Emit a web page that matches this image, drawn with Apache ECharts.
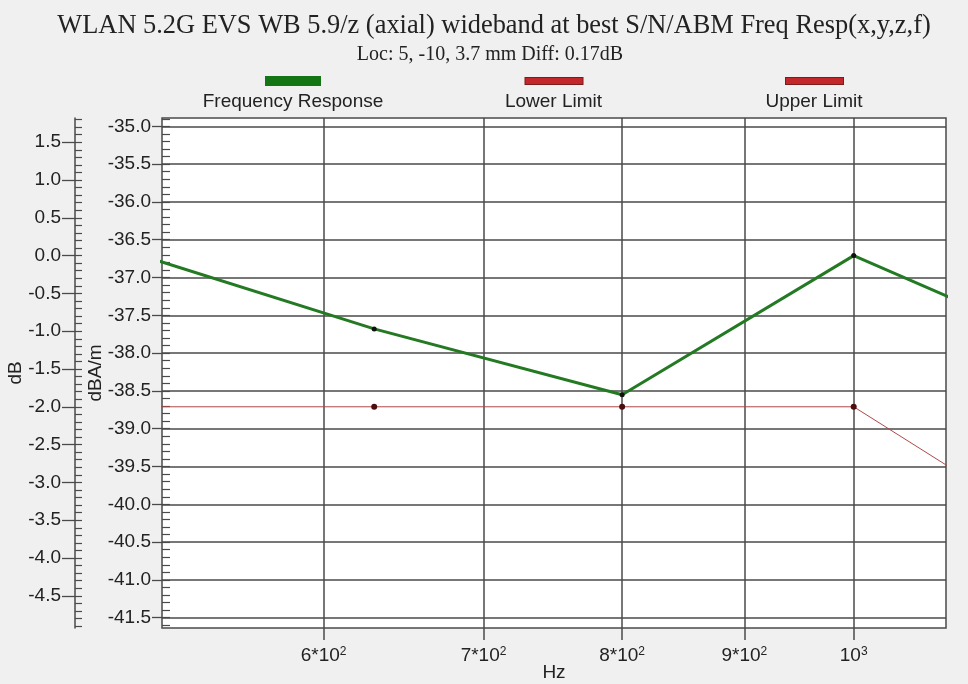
<!DOCTYPE html>
<html><head><meta charset="utf-8">
<script src="https://cdn.jsdelivr.net/npm/echarts@6/dist/echarts.min.js"></script>
<style>html,body{margin:0;padding:0;background:#f0f0f0}#c{width:968px;height:684px}</style>
</head><body><div id="c"></div>
<script>
// ---- data ----
const freqs = [500, 630, 800, 1000, 1250];
const freqResp = [-36.68, -37.68, -38.55, -36.71, -38.04];
const lowerLimit = [-38.71, -38.71, -38.71, -38.71, -40.64];
const upperLimit = [];
const xTicks = [600, 700, 800, 900, 1000];
const xTickLabels = ['6*10^2', '7*10^2', '8*10^2', '9*10^2', '10^3'];
const yTicks = [-41.5, -41.0, -40.5, -40.0, -39.5, -39.0, -38.5, -38.0, -37.5, -37.0, -36.5, -36.0, -35.5, -35.0];
const dbTicks = [-4.5, -4.0, -3.5, -3.0, -2.5, -2.0, -1.5, -1.0, -0.5, 0.0, 0.5, 1.0, 1.5];
const xRange = [513.5, 1093];
const yRange = [-41.636, -34.89];
const refLevel = freqResp[3]; // dB axis is relative to 1 kHz level
const titleText = 'WLAN 5.2G EVS WB 5.9/z (axial) wideband at best S/N/ABM Freq Resp(x,y,z,f)';
const subText = 'Loc: 5, -10, 3.7 mm Diff: 0.17dB';

function minorTicks(lo, hi) {
  const out = [];
  for (let k = Math.ceil(lo * 10 - 1e-9); k <= Math.floor(hi * 10 + 1e-9); k++) out.push(k / 10);
  return out;
}
const dbRange = [yRange[0] - refLevel, yRange[1] - refLevel];
const gridCol = '#4a4a4a';
const txtCol = '#222';
const sans = 'Liberation Sans';
const fs = 19;

const chart = echarts.init(document.getElementById('c'), null, {renderer: 'canvas'});
chart.setOption({
  animation: false,
  backgroundColor: '#f0f0f0',
  title: [
    {text: titleText, left: 489, textAlign: 'center', top: 8,
     textStyle: {fontFamily: 'Liberation Serif', fontSize: 26.4, fontWeight: 'normal', color: txtCol}},
    {text: subText, left: 485, textAlign: 'center', top: 40,
     textStyle: {fontFamily: 'Liberation Serif', fontSize: 20, fontWeight: 'normal', color: txtCol}}
  ],
  legend: {
    left: 183, top: 70, itemWidth: 0, itemHeight: 0, itemGap: 55.5, selectedMode: false,
    icon: 'rect',
    data: ['Frequency Response', 'Lower Limit', 'Upper Limit'],
    formatter: function (name) {
      const k = name === 'Frequency Response' ? 'g' : 'r';
      return '{s| }{' + k + '| }\n{t|' + name + '}';
    },
    textStyle: {
      rich: {
        s: {width: 72, height: 10, lineHeight: 20},
        g: {width: 56, height: 10, lineHeight: 20, backgroundColor: '#137513'},
        r: {width: 57, height: 6, lineHeight: 20, backgroundColor: '#c4272b', borderColor: '#7a1c1c', borderWidth: 1},
        t: {width: 200, align: 'center', fontSize: fs, lineHeight: 22, fontFamily: sans, color: txtCol}
      }
    }
  },
  grid: {left: 162, top: 118, width: 784, height: 510, show: true, backgroundColor: '#fff',
         borderColor: gridCol, borderWidth: 1.5, containLabel: false, outerBoundsMode: 'none'},
  xAxis: [{
    type: 'log', logBase: 10, min: xRange[0], max: xRange[1],
    axisLine: {show: false, onZero: false},
    axisTick: {show: true, customValues: xTicks, length: 12, lineStyle: {color: gridCol, width: 1.5}},
    axisLabel: {
      customValues: xTicks, margin: 18, color: txtCol, fontFamily: sans, fontSize: fs,
      formatter: function (v) {
        const i = xTicks.findIndex(t => Math.abs(t - v) < 1e-6 * t);
        const s = i >= 0 ? xTickLabels[i] : String(v);
        const p = s.split('^');
        return '{b|' + p[0] + '}{e|' + (p[1] || '') + '}';
      },
      rich: {
        b: {fontSize: fs, fontFamily: sans, color: txtCol},
        e: {fontSize: 12, fontFamily: sans, color: txtCol, verticalAlign: 'top', padding: [0, 0, 8, 0]}
      }
    },
    splitLine: {show: true, lineStyle: {color: gridCol, width: 1.5}},
    name: 'Hz', nameLocation: 'middle', nameGap: 35, nameMoveOverlap: false,
    nameTextStyle: {fontFamily: sans, fontSize: fs, color: txtCol}
  }],
  yAxis: [
    {
      type: 'value', min: yRange[0], max: yRange[1], position: 'left',
      axisLine: {show: false, onZero: false},
      axisTick: {show: true, customValues: yTicks, length: 10, lineStyle: {color: gridCol, width: 1.3}},
      axisLabel: {customValues: yTicks, margin: 11, formatter: v => v.toFixed(1),
                  fontFamily: sans, fontSize: fs, color: txtCol},
      splitLine: {show: true, lineStyle: {color: gridCol, width: 1.5}},
      name: 'dBA/m', nameLocation: 'middle', nameGap: 57, nameRotate: 90, nameMoveOverlap: false,
      nameTextStyle: {fontFamily: sans, fontSize: fs, color: txtCol}
    },
    {
      type: 'value', min: yRange[0], max: yRange[1], position: 'left',
      axisLine: {show: false, onZero: false},
      axisTick: {show: true, inside: true, customValues: minorTicks(yRange[0], yRange[1]), length: 8,
                 lineStyle: {color: gridCol, width: 1.2}},
      axisLabel: {show: false}, splitLine: {show: false}
    },
    {
      type: 'value', min: dbRange[0], max: dbRange[1], position: 'left', offset: 87,
      axisLine: {show: true, onZero: false, lineStyle: {color: gridCol, width: 1.5}},
      axisTick: {show: true, customValues: dbTicks, length: 13, lineStyle: {color: gridCol, width: 1.3}},
      axisLabel: {customValues: dbTicks, margin: 14, formatter: v => v.toFixed(1),
                  fontFamily: sans, fontSize: fs, color: txtCol},
      splitLine: {show: false},
      name: 'dB', nameLocation: 'middle', nameGap: 50, nameRotate: 90, nameMoveOverlap: false,
      nameTextStyle: {fontFamily: sans, fontSize: fs, color: txtCol}
    },
    {
      type: 'value', min: dbRange[0], max: dbRange[1], position: 'left', offset: 87,
      axisLine: {show: false, onZero: false},
      axisTick: {show: true, inside: true, customValues: minorTicks(dbRange[0], dbRange[1]), length: 7,
                 lineStyle: {color: gridCol, width: 1.2}},
      axisLabel: {show: false}, splitLine: {show: false}
    }
  ],
  series: [
    {name: 'Frequency Response', type: 'line', xAxisIndex: 0, yAxisIndex: 0, clip: true, z: 4,
     data: freqs.map((f, i) => [f, freqResp[i]]),
     color: '#137513',
     lineStyle: {color: '#237a23', width: 3},
     symbol: 'circle', symbolSize: 5, itemStyle: {color: '#111'},
     emphasis: {disabled: true}},
    {name: 'Lower Limit', type: 'line', xAxisIndex: 0, yAxisIndex: 0, clip: true, z: 3,
     data: freqs.map((f, i) => [f, lowerLimit[i]]),
     color: '#c4272b',
     lineStyle: {color: '#b04848', width: 1},
     symbol: 'circle', symbolSize: 6, itemStyle: {color: '#4a0e0e'},
     emphasis: {disabled: true}},
    {name: 'Upper Limit', type: 'line', xAxisIndex: 0, yAxisIndex: 0, clip: true, z: 3,
     data: upperLimit, color: '#c4272b',
     lineStyle: {color: '#b04848', width: 1}, symbol: 'circle', symbolSize: 6,
     emphasis: {disabled: true}}
  ]
});
</script></body></html>
